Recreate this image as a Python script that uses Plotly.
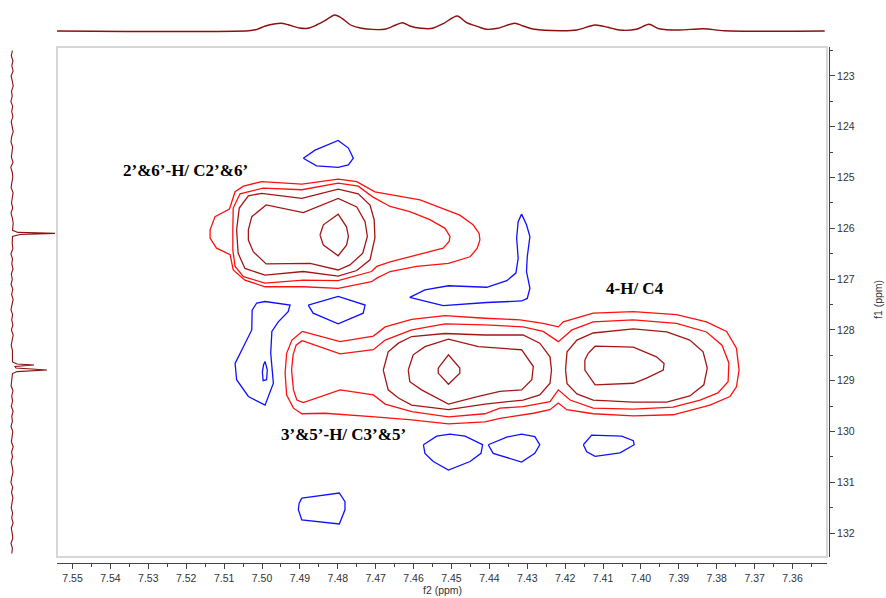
import plotly.graph_objects as go

W, H = 886, 598

# ---------------- axis ticks ----------------
f2_tickvals = [7.55, 7.54, 7.53, 7.52, 7.51, 7.50, 7.49, 7.48, 7.47, 7.46,
               7.45, 7.44, 7.43, 7.42, 7.41, 7.40, 7.39, 7.38, 7.37, 7.36]
f2_ticktext = ["7.55", "7.54", "7.53", "7.52", "7.51", "7.50", "7.49", "7.48", "7.47", "7.46",
               "7.45", "7.44", "7.43", "7.42", "7.41", "7.40", "7.39", "7.38", "7.37", "7.36"]
f1_tickvals = [123, 124, 125, 126, 127, 128, 129, 130, 131, 132]
f1_ticktext = ["123", "124", "125", "126", "127", "128", "129", "130", "131", "132"]
f2_range = [7.5541, 7.3509]
f1_range = [132.47, 122.43]

# ---------------- 1D projections ----------------
top_f2 = [7.5544, 7.5035, 7.5013, 7.4991, 7.4950, 7.4931, 7.4901, 7.4879, 7.4856, 7.4834,
          7.4808, 7.4789, 7.4766, 7.4737, 7.4677, 7.4647, 7.4629, 7.4610, 7.4580, 7.4550,
          7.4520, 7.4485, 7.4460, 7.4430, 7.4408, 7.4378, 7.4333, 7.4311, 7.4281, 7.4213,
          7.4169, 7.4121, 7.4087, 7.4057, 7.4012, 7.3979, 7.3952, 7.3899, 7.3835, 7.3780, 7.3515]
top_int = [0, 0.3, 1.7, 5.0, 7.7, 6.3, 3.0, 2.7, 6.0, 10.3,
           16.0, 12.7, 6.0, 2.7, 1.7, 6.0, 8.3, 5.0, 2.7, 2.7,
           7.7, 15.0, 8.3, 4.3, 1.7, 2.7, 7.7, 5.0, 1.7, 0.3,
           1.0, 6.0, 3.7, 1.0, 1.7, 6.7, 2.3, 1.0, 2.3, 0.3, 0]

left_noise = [0.4, -0.7, 0.9, -0.2, 1.1, -0.9, 0.3, 1.2, -0.5, 0.2,
              -1.1, 0.7, -0.3, 0.9, -0.8, 0.5, 1.2, -0.4, -1.0, 0.6,
              0.1, -0.6, 1.0, -1.2, 0.3, 0.8, -0.2, -0.9, 1.1, 0.0,
              -0.5, 0.7, -1.0, 0.4, 1.2, -0.3, 0.6, -0.8, 0.2, 0.9,
              -1.1, 0.5, -0.2, 1.0, -0.7, 0.3, -0.9, 0.8, -0.4, 1.1,
              0.2, -1.0, 0.6, -0.3, 0.9, -0.6, 1.2, -0.1, -0.8, 0.4,
              0.7, -1.2, 0.3, 0.9, -0.5, 0.1, -0.9, 1.0, -0.3, 0.6,
              -0.7, 1.1, -0.2, 0.4, -1.0, 0.8, 0.0, -0.6, 1.2, -0.4,
              0.5, -0.9, 0.3, 1.0, -0.2, -1.1, 0.7, -0.5, 0.9, 0.1,
              -0.8, 0.6, -0.3, 1.1, -0.7, 0.2, 0.8, -1.0, 0.4, -0.2]
left_noise_f1 = [round(122.5 + 0.1 * i, 2) for i in range(len(left_noise))]
left_peak_f1 = [126.04, 126.08, 126.10, 126.12, 126.16,
                128.63, 128.67, 128.69, 128.72, 128.75, 128.79, 128.82, 128.86]
left_peak_int = [0.5, 6.0, 43.0, 8.0, 0.5,
                 0.5, 5.0, 22.0, 3.0, 4.0, 35.0, 5.0, 0.5]

# ---------------- 2D contours (f2 ppm, f1 ppm) ----------------
# 2'&6'-H / C2'&6' cross peak, levels from outside to inside
h26_level1 = [(7.5137, 126.03), (7.5124, 125.77), (7.5086, 125.62), (7.5071, 125.28), (7.5049, 125.17),
              (7.5001, 125.08), (7.4895, 125.13), (7.4799, 125.03), (7.4750, 125.08), (7.4702, 125.28),
              (7.4583, 125.44), (7.4478, 125.74), (7.4443, 125.93), (7.4427, 126.10), (7.4425, 126.23),
              (7.4432, 126.39), (7.4451, 126.56), (7.4508, 126.69), (7.4592, 126.75), (7.4662, 126.85),
              (7.4697, 126.98), (7.4711, 127.05), (7.4799, 127.18), (7.4891, 127.15), (7.4992, 127.15),
              (7.5045, 127.02), (7.5076, 126.82), (7.5084, 126.52), (7.5120, 126.39), (7.5137, 126.19)]
h26_level2 = [(7.5077, 126.03), (7.5076, 125.60), (7.5058, 125.32), (7.4997, 125.21), (7.4895, 125.24),
              (7.4799, 125.11), (7.4746, 125.17), (7.4708, 125.38), (7.4662, 125.57), (7.4610, 125.67),
              (7.4557, 125.83), (7.4517, 126.00), (7.4504, 126.16), (7.4506, 126.26), (7.4522, 126.39),
              (7.4592, 126.52), (7.4662, 126.66), (7.4697, 126.75), (7.4711, 126.85), (7.4799, 127.03),
              (7.4891, 127.02), (7.4992, 127.08), (7.5049, 126.95), (7.5071, 126.75), (7.5077, 126.43)]
h26_level3 = [(7.5067, 126.03), (7.5060, 125.60), (7.5036, 125.36), (7.5001, 125.31), (7.4895, 125.41),
              (7.4799, 125.23), (7.4746, 125.32), (7.4715, 125.54), (7.4704, 125.83), (7.4702, 126.19),
              (7.4715, 126.62), (7.4750, 126.83), (7.4799, 126.94), (7.4891, 126.85), (7.4992, 126.92),
              (7.5045, 126.79), (7.5063, 126.49)]
h26_level4 = [(7.5036, 126.03), (7.5027, 125.77), (7.4989, 125.54), (7.4891, 125.69), (7.4799, 125.41),
              (7.4750, 125.58), (7.4728, 125.87), (7.4722, 126.16), (7.4734, 126.49), (7.4768, 126.72),
              (7.4799, 126.82), (7.4873, 126.69), (7.4989, 126.70), (7.5023, 126.46), (7.5036, 126.23)]
h26_level5 = [(7.4847, 126.13), (7.4838, 125.93), (7.4799, 125.72), (7.4777, 125.97), (7.4772, 126.16),
              (7.4777, 126.33), (7.4799, 126.54), (7.4838, 126.33)]

# 3'&5'-H / C3'&5' and 4-H / C4 cross peaks (joined outer levels)
h35_h4_level1 = [(7.4894, 128.03), (7.4794, 128.23), (7.4706, 128.12), (7.4675, 127.94), (7.4605, 127.79),
                 (7.4517, 127.72), (7.4412, 127.77), (7.4319, 127.80), (7.4258, 127.87), (7.4218, 127.94),
                 (7.4205, 127.84), (7.4126, 127.67), (7.4020, 127.64), (7.3906, 127.70), (7.3827, 127.84),
                 (7.3774, 128.03), (7.3748, 128.36), (7.3741, 128.79), (7.3748, 129.12), (7.3765, 129.31),
                 (7.3818, 129.48), (7.3915, 129.67), (7.4020, 129.69), (7.4126, 129.65), (7.4196, 129.57),
                 (7.4218, 129.44), (7.4240, 129.57), (7.4284, 129.64), (7.4372, 129.74), (7.4412, 129.81),
                 (7.4508, 129.85), (7.4605, 129.77), (7.4702, 129.71), (7.4834, 129.64), (7.4895, 129.65),
                 (7.4917, 129.54), (7.4935, 129.28), (7.4939, 128.85), (7.4935, 128.46), (7.4921, 128.20)]
h35_h4_level2 = [(7.4894, 128.21), (7.4794, 128.47), (7.4706, 128.39), (7.4675, 128.20), (7.4605, 128.00),
                 (7.4517, 127.88), (7.4412, 127.90), (7.4311, 127.94), (7.4258, 128.03), (7.4218, 128.23),
                 (7.4182, 128.00), (7.4126, 127.84), (7.4020, 127.80), (7.3906, 127.87), (7.3827, 128.04),
                 (7.3786, 128.30), (7.3768, 128.65), (7.3770, 129.02), (7.3797, 129.24), (7.3844, 129.38),
                 (7.3915, 129.52), (7.4020, 129.56), (7.4126, 129.54), (7.4187, 129.38), (7.4218, 129.18),
                 (7.4240, 129.41), (7.4311, 129.51), (7.4372, 129.54), (7.4412, 129.65), (7.4508, 129.71),
                 (7.4605, 129.61), (7.4675, 129.46), (7.4706, 129.28), (7.4794, 129.18), (7.4891, 129.43),
                 (7.4908, 129.38), (7.4917, 129.18), (7.4922, 128.79), (7.4918, 128.49), (7.4910, 128.30)]
h35_level3 = [(7.4680, 128.79), (7.4667, 128.43), (7.4640, 128.26), (7.4605, 128.13), (7.4517, 128.07),
              (7.4412, 128.10), (7.4311, 128.10), (7.4267, 128.26), (7.4240, 128.53), (7.4236, 128.79),
              (7.4240, 129.05), (7.4267, 129.28), (7.4311, 129.38), (7.4412, 129.46), (7.4508, 129.57),
              (7.4605, 129.48), (7.4640, 129.34), (7.4667, 129.18)]
h35_level4 = [(7.4614, 128.79), (7.4601, 128.49), (7.4570, 128.33), (7.4508, 128.18), (7.4429, 128.33),
              (7.4372, 128.36), (7.4315, 128.39), (7.4284, 128.72), (7.4288, 128.98), (7.4315, 129.18),
              (7.4372, 129.21), (7.4429, 129.31), (7.4508, 129.46), (7.4579, 129.18), (7.4610, 129.02)]
h35_level5 = [(7.4535, 128.75), (7.4508, 128.49), (7.4478, 128.75), (7.4478, 128.85), (7.4508, 129.07),
              (7.4535, 128.85)]
h4_level3 = [(7.4199, 128.79), (7.4195, 128.43), (7.4169, 128.20), (7.4126, 128.06), (7.4020, 127.98),
             (7.3932, 128.04), (7.3871, 128.20), (7.3836, 128.43), (7.3825, 128.75), (7.3834, 129.08),
             (7.3871, 129.30), (7.3932, 129.42), (7.4020, 129.42), (7.4126, 129.38), (7.4169, 129.26),
             (7.4195, 129.06)]
h4_level4 = [(7.4148, 128.59), (7.4139, 128.46), (7.4121, 128.32), (7.4020, 128.34), (7.3959, 128.53),
             (7.3939, 128.66), (7.3941, 128.79), (7.3985, 128.95), (7.4020, 129.05), (7.4121, 129.08),
             (7.4148, 128.79)]

# negative contours
neg_a = [(7.4891, 124.62), (7.4860, 124.46), (7.4799, 124.27), (7.4772, 124.42), (7.4759, 124.62),
         (7.4772, 124.75), (7.4799, 124.80), (7.4856, 124.77)]
neg_b = [(7.4992, 127.44), (7.4926, 127.51), (7.4931, 127.64), (7.4957, 127.84), (7.4974, 128.03),
         (7.4977, 128.46), (7.4970, 129.05), (7.4992, 129.48), (7.5036, 129.31), (7.5067, 128.98),
         (7.5071, 128.66), (7.5049, 128.33), (7.5027, 128.00), (7.5026, 127.61), (7.5014, 127.47)]
neg_b_inner = [(7.4992, 128.62), (7.4986, 128.79), (7.4988, 128.98), (7.4997, 129.00), (7.4999, 128.83),
               (7.4996, 128.69)]
neg_c = [(7.4878, 127.51), (7.4799, 127.34), (7.4728, 127.51), (7.4733, 127.67), (7.4799, 127.88),
         (7.4865, 127.67)]
neg_d = [(7.4315, 125.72), (7.4302, 125.93), (7.4293, 126.16), (7.4300, 126.56), (7.4302, 126.85),
         (7.4293, 127.18), (7.4300, 127.38), (7.4315, 127.43), (7.4407, 127.46), (7.4522, 127.52),
         (7.4610, 127.36), (7.4570, 127.21), (7.4508, 127.13), (7.4407, 127.16), (7.4354, 127.03),
         (7.4330, 126.88), (7.4324, 126.59), (7.4328, 126.19), (7.4324, 125.87)]
neg_e = [(7.4574, 130.26), (7.4539, 130.09), (7.4504, 130.05), (7.4464, 130.09), (7.4418, 130.26),
         (7.4422, 130.43), (7.4451, 130.59), (7.4508, 130.76), (7.4548, 130.59), (7.4570, 130.43)]
neg_f = [(7.4403, 130.26), (7.4354, 130.11), (7.4315, 130.05), (7.4280, 130.10), (7.4267, 130.26),
         (7.4280, 130.43), (7.4315, 130.60), (7.4390, 130.43)]
neg_g = [(7.4152, 130.26), (7.4130, 130.07), (7.4051, 130.09), (7.4020, 130.18), (7.4018, 130.26),
         (7.4055, 130.42), (7.4121, 130.49), (7.4143, 130.40)]
neg_h = [(7.4895, 131.31), (7.4796, 131.21), (7.4781, 131.38), (7.4781, 131.54), (7.4796, 131.82),
         (7.4895, 131.74), (7.4904, 131.54), (7.4902, 131.41)]

# peak labels (text, f2, f1)
peak_labels = [("2’&6’-H/ C2’&6’", 7.5203, 124.86),
               ("4-H/ C4", 7.4016, 127.19),
               ("3’&5’-H/ C3’&5’", 7.4784, 130.05)]

# ---------------- styles ----------------
RED = "#ff1010"
DARK = "#a31616"
BLUE = "#1010ff"
PROJ = "#8b1010"

positive = [(h26_level1, RED), (h26_level2, RED), (h26_level3, DARK), (h26_level4, DARK), (h26_level5, DARK),
            (h35_h4_level1, RED), (h35_h4_level2, RED), (h35_level3, DARK), (h35_level4, DARK),
            (h35_level5, DARK), (h4_level3, DARK), (h4_level4, DARK)]
negative = [neg_a, neg_b, neg_b_inner, neg_c, neg_d, neg_e, neg_f, neg_g, neg_h]

fig = go.Figure()


def ring(pts, color):
    xs = [p[0] for p in pts] + [pts[0][0]]
    ys = [p[1] for p in pts] + [pts[0][1]]
    fig.add_trace(go.Scatter(x=xs, y=ys, mode="lines", line=dict(color=color, width=1.3),
                             hoverinfo="skip", showlegend=False, xaxis="x", yaxis="y"))


for pts in negative:
    ring(pts, BLUE)
for pts, col in positive:
    ring(pts, col)

# top projection
fig.add_trace(go.Scatter(x=top_f2, y=top_int, mode="lines",
                         line=dict(color=PROJ, width=1.4, shape="spline", smoothing=0.8),
                         hoverinfo="skip", showlegend=False, xaxis="x2", yaxis="y2"))

# left projection
pts = [(f, v) for f, v in zip(left_noise_f1, left_noise)
       if all(abs(f - p) > 0.07 for p in left_peak_f1)]
pts += list(zip(left_peak_f1, left_peak_int))
pts.sort()
fig.add_trace(go.Scatter(x=[p[1] for p in pts], y=[p[0] for p in pts], mode="lines",
                         line=dict(color=PROJ, width=1.1),
                         hoverinfo="skip", showlegend=False, xaxis="x3", yaxis="y3"))

# ---------------- layout ----------------
x0p, x1p = 57 / W, 827 / W
y0p, y1p = 1 - 557 / H, 1 - 47 / H
tickfont = dict(family="Liberation Sans, Arial, sans-serif", size=10.5, color="#333333")

fig.update_layout(
    width=W, height=H, margin=dict(l=0, r=0, t=0, b=0),
    paper_bgcolor="white", plot_bgcolor="white", template="none",
    showlegend=False,
    xaxis=dict(domain=[x0p, x1p], range=f2_range, anchor="free", position=1 - 563 / H,
               tickmode="array", tickvals=f2_tickvals, ticktext=f2_ticktext,
               ticks="outside", ticklen=5, tickcolor="#444", tickwidth=1,
               minor=dict(tickmode="linear", tick0=7.355, dtick=0.005, ticks="outside",
                          ticklen=3, tickcolor="#444"),
               showline=True, linecolor="#444", linewidth=1, showgrid=False, zeroline=False,
               tickfont=tickfont, automargin=False),
    yaxis=dict(domain=[y0p, y1p], range=f1_range, anchor="free", position=829 / W, side="right",
               tickmode="array", tickvals=f1_tickvals, ticktext=f1_ticktext,
               ticks="outside", ticklen=5, tickcolor="#444", tickwidth=1,
               minor=dict(tickmode="linear", tick0=122.5, dtick=0.5, ticks="outside",
                          ticklen=3, tickcolor="#444"),
               showline=True, linecolor="#444", linewidth=1, showgrid=False, zeroline=False,
               tickfont=tickfont, automargin=False),
    xaxis2=dict(domain=[x0p, x1p], range=f2_range, anchor="y2", visible=False),
    yaxis2=dict(domain=[1 - 40 / H, 1 - 5 / H], range=[-9, 26], anchor="x2", visible=False),
    xaxis3=dict(domain=[0, 57 / W], range=[-12, 45], anchor="y3", visible=False),
    yaxis3=dict(domain=[y0p, y1p], range=[132.47, 122.43], anchor="x3", visible=False),
    shapes=[dict(type="rect", xref="paper", yref="paper", x0=x0p, x1=x1p, y0=y0p, y1=y1p,
                 line=dict(color="#d6d6d6", width=2), layer="above")],
)

ann = []
for text, fx, fy in peak_labels:
    ann.append(dict(text="<b>" + text + "</b>", x=fx, y=fy, xref="x", yref="y", showarrow=False,
                    font=dict(family="Liberation Serif, Times New Roman, serif", size=17, color="black"),
                    xanchor="center", yanchor="middle"))
ann.append(dict(text="f2 (ppm)", x=442 / W, y=1 - 590 / H, xref="paper", yref="paper", showarrow=False,
                font=tickfont, xanchor="center", yanchor="middle"))
ann.append(dict(text="f1 (ppm)", x=878 / W, y=1 - 300 / H, xref="paper", yref="paper", showarrow=False,
                font=tickfont, textangle=-90, xanchor="center", yanchor="middle"))
fig.update_layout(annotations=ann)

fig.write_html("out.html", config={"displayModeBar": False},
               post_script="document.body.style.margin='0';document.body.style.overflow='hidden';")
